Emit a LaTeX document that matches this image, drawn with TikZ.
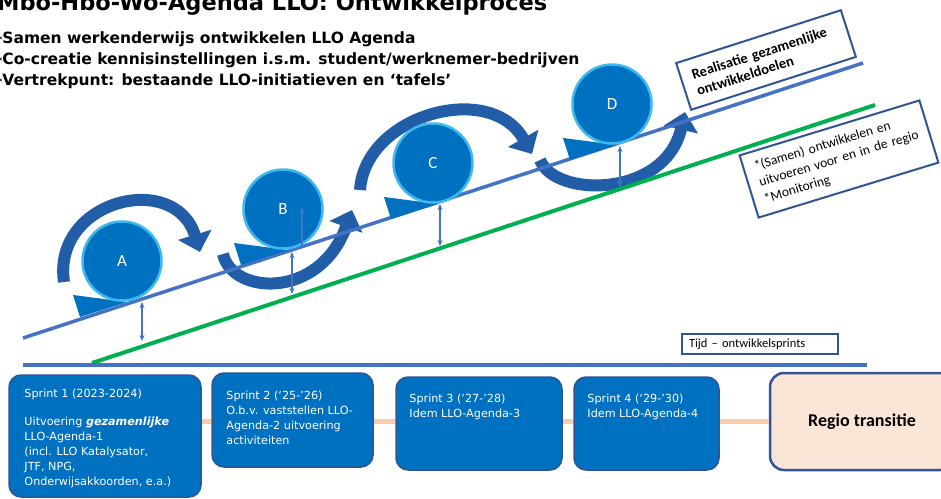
\documentclass[tikz,border=0pt]{standalone}
\usepackage{fontspec}
\setmainfont{DejaVu Sans}
\newfontfamily\cali{Carlito}
\usetikzlibrary{arrows.meta,calc}
\definecolor{lineblue}{RGB}{68,114,196}
\definecolor{darkframe}{RGB}{47,85,151}
\definecolor{ballblue}{RGB}{0,112,192}
\definecolor{ballrim}{RGB}{60,185,240}
\definecolor{sweepblue}{RGB}{34,94,168}
\definecolor{slopegreen}{RGB}{0,176,80}
\definecolor{peach}{RGB}{251,229,214}
\definecolor{peachline}{RGB}{248,203,173}
\begin{document}
\begin{tikzpicture}[x=1pt,y=-1pt,
	ball/.style={circle,fill=ballblue,draw=ballrim,line width=2.5pt,minimum size=79pt,inner sep=0,
		text=white,font=\cali\fontsize{17}{17}\selectfont},
	sweep/.style={draw=sweepblue,line width=12pt,-{Triangle[width=34pt,length=18pt]}},
	gap/.style={draw=lineblue,line width=1.4pt,{Stealth[length=6pt,width=5pt]}-{Stealth[length=6pt,width=5pt]}},
	sprint/.style={rounded corners=12pt,fill=ballblue,draw=darkframe,line width=1.5pt,inner sep=0},
	sprinttext/.style={anchor=north west,inner sep=0,align=left,text=white,font=\fontsize{11.2}{15}\selectfont},
	note/.style={draw=darkframe,line width=2pt,fill=white,align=left,inner sep=0},
	head/.style={anchor=base west,inner sep=0,font=\bfseries\fontsize{15.5}{15.5}\selectfont}]
\useasboundingbox (0,0) rectangle (941,498);

\node[head,font=\bfseries\fontsize{22.5}{22.5}\selectfont] (title) at (-3,10) {Mbo-Hbo-Wo-Agenda LLO: Ontwikkelproces};
\node[head] (p1) at (-3,43) {{\fontsize{10}{10}\selectfont *}Samen werkenderwijs ontwikkelen LLO Agenda};
\node[head] (p2) at (-3,64) {{\fontsize{10}{10}\selectfont *}Co-creatie kennisinstellingen i.s.m. student/werknemer-bedrijven};
\node[head] (p3) at (-3,85) {{\fontsize{10}{10}\selectfont *}Vertrekpunt: bestaande LLO-initiatieven en ‘tafels’};

\coordinate (a0) at (64,282); \coordinate (a1) at (200,252);
\coordinate (b0) at (223,254); \coordinate (b1) at (352,210);
\coordinate (c0) at (360,190); \coordinate (c1) at (532,154);
\coordinate (d0) at (540,160); \coordinate (d1) at (685,112);
\draw[sweep] (a0) .. controls (52,200) and (175,170) .. (a1);
\draw[sweep] (b0) .. controls (232,295) and (320,300) .. (b1);
\draw[sweep] (c0) .. controls (365,115) and (490,80) .. (c1);
\draw[sweep] (d0) .. controls (555,198) and (665,198) .. (d1);

\coordinate (bs) at (23,338); \coordinate (be) at (863,63);
\coordinate (gs) at (92,363); \coordinate (ge) at (875,105);
\coordinate (ts) at (23,365); \coordinate (te) at (867,365);
\draw[lineblue,line width=3.5pt] (bs) -- (be);
\draw[slopegreen,line width=4pt] (gs) -- (ge);
\draw[lineblue,line width=3.5pt] (ts) -- (te);

\foreach \n/\x/\y in {A/122/261,B/283/209,C/433/163,D/612/104}{
	\fill[ballblue] ($(\x,\y)+(5,41)$) -- ++(-47,15) -- ++(-7,-22) -- cycle;
	\node[ball] (\n) at (\x,\y) {\n};
}

\foreach \n/\x/\t/\b in {A/142/302/341,B/292/252/294,C/440/204/246,D/620/146/187}{
	\coordinate (up\n) at (\x,\t);
	\coordinate (dn\n) at (\x,\b);
	\draw[gap] (up\n) -- (dn\n);
}
\coordinate (rise0) at (302,247); \coordinate (rise1) at (302,207);
\draw[gap,{Stealth[length=6pt,width=5pt]}-] (rise1) -- (rise0);

\node[note,rotate=17.8,minimum width=173pt,minimum height=49pt,text width=150pt,
	font=\cali\bfseries\fontsize{14.5}{17}\selectfont] (goal) at (766,60) {Realisatie gezamenlijke\\ontwikkeldoelen};
\node[note,rotate=17,minimum width=188pt,minimum height=65pt,text width=166pt,
	font=\cali\fontsize{13.5}{17}\selectfont] (todo) at (839,159) {{*}(Samen) ontwikkelen en\\uitvoeren voor en in de regio\\{*}Monitoring};
\node[note,line width=1.5pt,minimum width=156pt,minimum height=20pt,text width=142pt,
	font=\cali\fontsize{12.5}{14}\selectfont] (tijd) at (760,344) {Tijd – ontwikkelsprints};

\node[sprint,minimum width=192pt,minimum height=122pt] (s1) at (105,436) {};
\node[sprint,minimum width=161pt,minimum height=94pt] (s2) at (292.5,420) {};
\node[sprint,minimum width=166pt,minimum height=93pt] (s3) at (479,423.5) {};
\node[sprint,minimum width=145pt,minimum height=93pt] (s4) at (646.5,423.5) {};
\node[sprint,fill=peach,line width=2.5pt,rounded corners=14pt,minimum width=184pt,minimum height=97pt,
	font=\cali\bfseries\fontsize{18}{18}\selectfont] (rt) at (862,421.5) {Regio transitie};

\node[sprinttext] (s1t) at ([shift={(16,15)}]s1.north west) {Sprint 1 (2023-2024)\\[13pt]
	Uitvoering \textbf{\textit{gezamenlijke}}\\LLO-Agenda-1\\(incl. LLO Katalysator,\\JTF, NPG,\\Onderwijsakkoorden, e.a.)};
\node[sprinttext] (s2t) at ([shift={(15,19)}]s2.north west) {Sprint 2 (‘25-’26)\\O.b.v. vaststellen LLO-\\Agenda-2 uitvoering\\activiteiten};
\node[sprinttext] (s3t) at ([shift={(14,18)}]s3.north west) {Sprint 3 (‘27-’28)\\Idem LLO-Agenda-3};
\node[sprinttext] (s4t) at ([shift={(14,18)}]s4.north west) {Sprint 4 (‘29-’30)\\Idem LLO-Agenda-4};

\draw[peachline,line width=5pt] (s1.east |- rt) -- (s2.west |- rt);
\draw[peachline,line width=5pt] (s2.east |- rt) -- (s3.west |- rt);
\draw[peachline,line width=5pt] (s3.east |- rt) -- (s4.west |- rt);
\draw[peachline,line width=5pt] (s4.east |- rt) -- (rt.west);
\end{tikzpicture}
\end{document}
